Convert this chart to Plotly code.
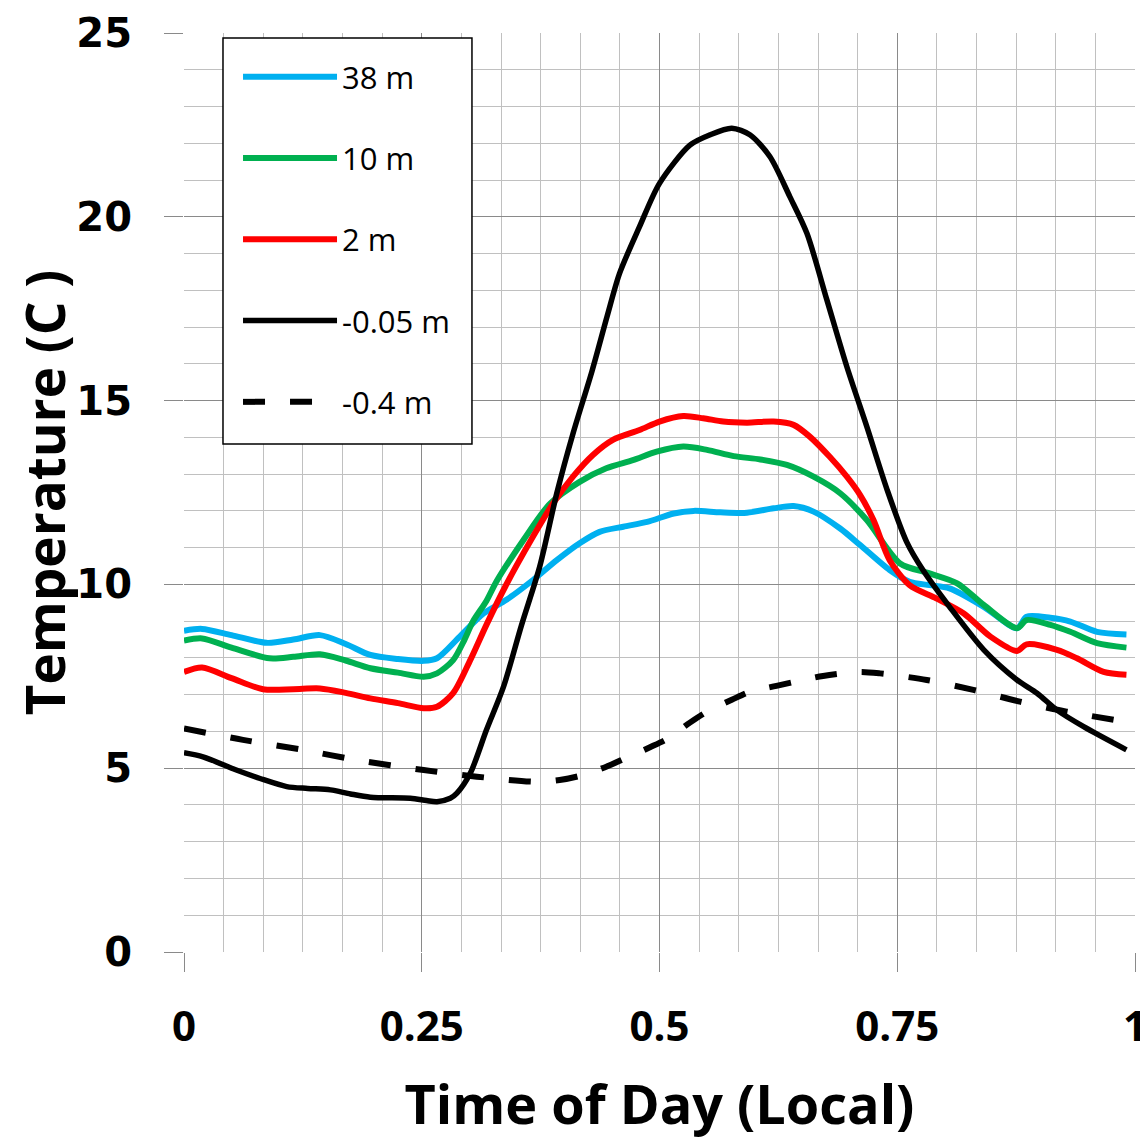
import plotly.graph_objects as go

# ---- data ----
t_38 = [0, 0.019, 0.05, 0.087, 0.115, 0.143, 0.17, 0.196, 0.225, 0.252, 0.266, 0.29, 0.315, 0.339,
        0.367, 0.392, 0.416, 0.437, 0.462, 0.487, 0.515, 0.536, 0.564, 0.592, 0.62, 0.641, 0.662,
        0.69, 0.711, 0.742, 0.763, 0.784, 0.805, 0.841, 0.876, 0.886, 0.911, 0.932, 0.96, 0.991]
T_38 = [8.74, 8.79, 8.62, 8.41, 8.50, 8.62, 8.38, 8.08, 7.97, 7.92, 7.99, 8.58, 9.21, 9.58,
        10.12, 10.66, 11.12, 11.43, 11.57, 11.70, 11.93, 12.00, 11.96, 11.95, 12.07, 12.13, 11.98,
        11.52, 11.07, 10.39, 10.07, 9.98, 9.89, 9.39, 8.81, 9.12, 9.09, 8.99, 8.71, 8.64]

t_10 = [0, 0.019, 0.05, 0.09, 0.115, 0.143, 0.17, 0.196, 0.225, 0.252, 0.266, 0.283, 0.295, 0.304,
        0.318, 0.329, 0.357, 0.385, 0.416, 0.444, 0.472, 0.497, 0.525, 0.55, 0.578, 0.606, 0.634,
        0.662, 0.69, 0.718, 0.753, 0.784, 0.813, 0.841, 0.876, 0.886, 0.911, 0.932, 0.96, 0.991]
T_10 = [8.47, 8.53, 8.28, 7.99, 8.03, 8.10, 7.93, 7.72, 7.60, 7.49, 7.58, 7.94, 8.50, 9.00,
        9.55, 10.10, 11.21, 12.20, 12.79, 13.16, 13.38, 13.61, 13.75, 13.66, 13.49, 13.40, 13.25,
        12.93, 12.48, 11.75, 10.57, 10.30, 10.03, 9.44, 8.81, 9.03, 8.90, 8.71, 8.40, 8.28]

t_2 = [0, 0.019, 0.05, 0.083, 0.115, 0.143, 0.17, 0.196, 0.225, 0.252, 0.266, 0.283, 0.301, 0.318,
       0.338, 0.367, 0.388, 0.409, 0.43, 0.451, 0.479, 0.5, 0.525, 0.546, 0.567, 0.592, 0.62, 0.641,
       0.658, 0.679, 0.697, 0.711, 0.725, 0.742, 0.763, 0.791, 0.82, 0.848, 0.876, 0.886, 0.918,
       0.939, 0.967, 0.991]
T_2 = [7.62, 7.74, 7.45, 7.15, 7.15, 7.17, 7.05, 6.90, 6.77, 6.63, 6.67, 7.04, 7.94, 8.90,
       9.95, 11.30, 12.20, 12.93, 13.52, 13.93, 14.20, 14.43, 14.58, 14.52, 14.43, 14.40, 14.43, 14.34,
       14.02, 13.47, 12.93, 12.43, 11.75, 10.66, 9.98, 9.62, 9.21, 8.58, 8.19, 8.37, 8.22,
       7.99, 7.62, 7.54]

t_s05 = [0, 0.02, 0.055, 0.08, 0.108, 0.13, 0.154, 0.175, 0.196, 0.238, 0.255, 0.266, 0.28, 0.287,
         0.301, 0.318, 0.336, 0.355, 0.374, 0.392, 0.409, 0.429, 0.445, 0.458, 0.479, 0.5, 0.532,
         0.553, 0.576, 0.595, 0.616, 0.637, 0.655, 0.676, 0.697, 0.718, 0.739, 0.76, 0.777, 0.805,
         0.841, 0.876, 0.897, 0.918, 0.946, 0.991]
T_s05 = [5.42, 5.31, 4.95, 4.72, 4.50, 4.45, 4.41, 4.30, 4.21, 4.18, 4.12, 4.09, 4.18, 4.32,
         4.86, 6.04, 7.22, 8.90, 10.48, 12.48, 14.10, 15.80, 17.30, 18.46, 19.73, 20.91, 21.95,
         22.23, 22.41, 22.23, 21.64, 20.55, 19.55, 17.74, 15.92, 14.29, 12.60, 11.15, 10.39, 9.39,
         8.22, 7.40, 7.04, 6.58, 6.13, 5.50]

t_s40 = [0, 0.062, 0.125, 0.182, 0.252, 0.308, 0.371, 0.395, 0.416, 0.444, 0.464, 0.49, 0.509,
         0.532, 0.55, 0.576, 0.595, 0.623, 0.644, 0.672, 0.71, 0.732, 0.781, 0.83, 0.879, 0.928, 0.989]
T_s40 = [6.08, 5.77, 5.50, 5.22, 4.95, 4.77, 4.63, 4.68, 4.79, 5.04, 5.27, 5.57, 5.81,
         6.24, 6.54, 6.86, 7.08, 7.24, 7.36, 7.51, 7.62, 7.58, 7.40, 7.13, 6.81, 6.54, 6.27]

series_names = ["38 m", "10 m", "2 m", "-0.05 m", "-0.4 m"]
x_tick_vals = [0, 0.25, 0.5, 0.75, 1]
x_tick_text = ["0", "0.25", "0.5", "0.75", "1"]
y_tick_vals = [0, 5, 10, 15, 20, 25]

# ---- figure ----
series = [
    (t_38, T_38, "#00B0F0", "solid", 6),
    (t_10, T_10, "#00B050", "solid", 6),
    (t_2, T_2, "#FF0000", "solid", 6),
    (t_s05, T_s05, "#000000", "solid", 5.5),
    (t_s40, T_s40, "#000000", "22px,25px", 6),
]

fig = go.Figure()
for i, (xs, ys, col, dash, w) in enumerate(series):
    fig.add_trace(go.Scatter(
        x=xs, y=ys, mode="lines", name=series_names[i], legendgroup=str(i),
        line=dict(color=col, width=w, dash=dash, shape="spline", smoothing=0.8),
    ))

axis_font = dict(family="Open Sans", size=42, color="black", weight="bold")
grid_major = "#8a8a8a"
grid_minor = "#c0c0c0"

# legend frame (drawn as a paper-referenced rectangle)
fig.add_shape(type="rect", xref="paper", yref="paper",
              x0=0.041, x1=0.3028, y0=0.5528, y1=0.9946,
              line=dict(color="black", width=1.5), fillcolor="white", layer="above")

# the page body adds an 8px offset, so the figure is 8px smaller than the window
fig.update_layout(
    width=1140, height=1133,
    margin=dict(l=176, r=13, t=25, b=189, autoexpand=False),
    paper_bgcolor="white", plot_bgcolor="white",
    showlegend=True,
    legend=dict(
        x=0.0568, y=0.9815, xanchor="left", yanchor="top",
        bgcolor="rgba(0,0,0,0)", borderwidth=0,
        font=dict(family="Open Sans", size=31, color="black"),
        tracegroupgap=38, itemwidth=94, traceorder="grouped",
    ),
    xaxis=dict(
        range=[0, 1], tickvals=x_tick_vals, ticktext=x_tick_text,
        showgrid=True, gridcolor=grid_major, gridwidth=1,
        minor=dict(dtick=1/24, showgrid=True, gridcolor=grid_minor, gridwidth=1, ticks=""),
        ticks="outside", ticklen=19, tickcolor=grid_major, tickwidth=1,
        showline=False, zeroline=False, automargin=False,
        tickfont=axis_font, ticklabelstandoff=19,
        title=dict(text="Time of Day (Local)",
                   font=dict(family="Open Sans", size=54, color="black", weight="bold"),
                   standoff=33),
    ),
    yaxis=dict(
        range=[0, 25], tickvals=y_tick_vals,
        showgrid=True, gridcolor=grid_major, gridwidth=1,
        minor=dict(dtick=1, showgrid=True, gridcolor=grid_minor, gridwidth=1, ticks=""),
        ticks="outside", ticklen=19, tickcolor=grid_major, tickwidth=1,
        showline=False, zeroline=False, automargin=False,
        tickfont=dict(family="DejaVu Sans", size=40, color="black", weight="bold"),
        ticklabelstandoff=24,
        title=dict(text="Temperature (C )",
                   font=dict(family="Open Sans", size=53, color="black", weight="bold"),
                   standoff=10),
    ),
)

fig.write_html("out.html")
